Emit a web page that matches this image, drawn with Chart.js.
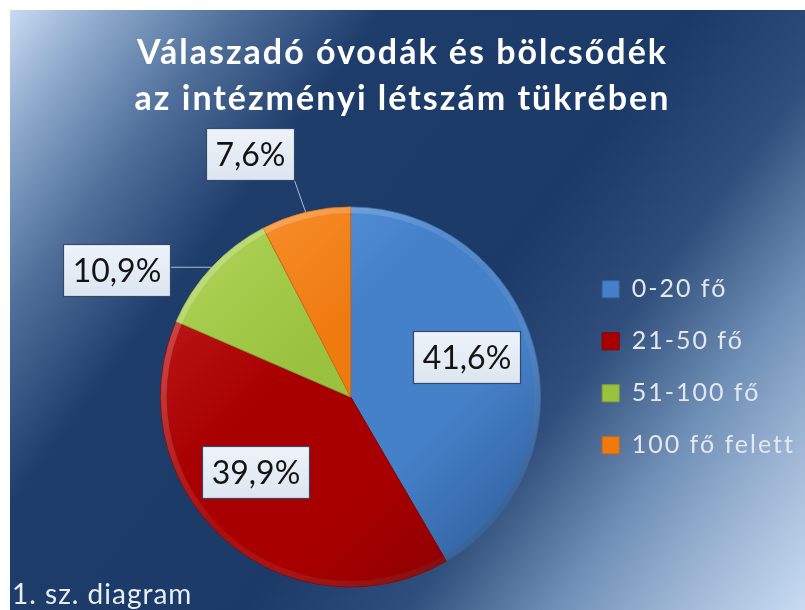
<!DOCTYPE html>
<html>
<head>
<meta charset="utf-8">
<script src="https://cdn.jsdelivr.net/npm/chart.js@4.4.0/dist/chart.umd.min.js"></script>
<style>
html,body{margin:0;padding:0;background:#ffffff;}
canvas{display:block;}
</style>
</head>
<body>
<canvas id="chart" width="805" height="610"></canvas>
<script>
// ---- data ----
const categories = ['0-20 fő', '21-50 fő', '51-100 fő', '100 fő felett'];
const shares = [41.6, 39.9, 10.9, 7.6];
const titleLines = ['Válaszadó óvodák és bölcsődék', 'az intézményi létszám tükrében'];
const footnote = '1. sz. diagram';

// ---- styles ----
const palette = [
  { base: '#4581c9', light: '#5c97dc', dark: '#3465a5' },
  { base: '#a80000', light: '#bd1717', dark: '#8e0000' },
  { base: '#9ac23e', light: '#abd054', dark: '#82a631' },
  { base: '#ef7a10', light: '#f78e2c', dark: '#d66908' }
];
// label placement relative to the arc (inside: fraction of radius; outside: offset from rim point)
const placement = [
  { inside: true, r: 0.63, dx: 0, dy: -9 },
  { inside: true, r: 0.63, dx: -16, dy: -14 },
  { inside: false, dx: -95, dy: 3 },
  { inside: false, dx: -56, dy: -58 }
];
const FONT = 'Lato, "Open Sans", sans-serif';

function sliceFill(c) {
  const chart = c.chart;
  const a = chart.chartArea;
  const p = palette[c.dataIndex % palette.length];
  if (!a) return p.base;
  const cx = (a.left + a.right) / 2, cy = (a.top + a.bottom) / 2, R = 190;
  const g = chart.ctx.createLinearGradient(cx - R * 0.75, cy - R * 0.75, cx + R * 0.75, cy + R * 0.75);
  g.addColorStop(0, p.light);
  g.addColorStop(0.35, p.base);
  g.addColorStop(0.7, p.base);
  g.addColorStop(1, p.dark);
  return g;
}

const backgroundPlugin = {
  id: 'panelBackground',
  beforeLayout(chart) { chart.ctx.letterSpacing = '2px'; },
  afterLayout(chart) { chart.ctx.letterSpacing = '0px'; },
  beforeDraw(chart) {
    const ctx = chart.ctx;
    const W = chart.width, H = chart.height;
    ctx.save();
    ctx.fillStyle = '#ffffff';
    ctx.fillRect(0, 0, W, H);
    const g = ctx.createLinearGradient(10, 10, W, H);
    g.addColorStop(0.00, '#c8dbf2');
    g.addColorStop(0.08, '#8ba7ca');
    g.addColorStop(0.18, '#50709b');
    g.addColorStop(0.30, '#1f3d6b');
    g.addColorStop(0.55, '#1c3a68');
    g.addColorStop(0.68, '#2f4e7b');
    g.addColorStop(0.80, '#7090b7');
    g.addColorStop(0.90, '#a0b8d6');
    g.addColorStop(1.00, '#c8dbf2');
    ctx.fillStyle = g;
    ctx.fillRect(10, 10, W - 10, H - 10);
    ctx.restore();
    ctx.letterSpacing = '2px';
  },
  beforeDatasetsDraw(chart) { chart.ctx.letterSpacing = '0px'; },
  afterDraw(chart) {
    const ctx = chart.ctx;
    ctx.save();
    ctx.letterSpacing = '1px';
    ctx.font = '28px ' + FONT;
    ctx.fillStyle = '#e8eef5';
    ctx.textBaseline = 'alphabetic';
    ctx.textAlign = 'left';
    ctx.fillText(footnote, 12, 604);
    ctx.restore();
  }
};

const labelPlugin = {
  id: 'boxLabels',
  afterDatasetsDraw(chart) {
    const ctx = chart.ctx;
    const meta = chart.getDatasetMeta(0);
    ctx.save();
    ctx.letterSpacing = '0px';
    // bevel rim
    const a0 = meta.data[0].getProps(['x', 'y', 'outerRadius'], true);
    const rg = ctx.createLinearGradient(a0.x - a0.outerRadius, a0.y - a0.outerRadius, a0.x + a0.outerRadius, a0.y + a0.outerRadius);
    rg.addColorStop(0, 'rgba(255,255,255,0.30)');
    rg.addColorStop(0.5, 'rgba(255,255,255,0.05)');
    rg.addColorStop(1, 'rgba(0,0,0,0.25)');
    ctx.beginPath();
    ctx.arc(a0.x, a0.y, a0.outerRadius - 3, 0, Math.PI * 2);
    ctx.lineWidth = 6;
    ctx.strokeStyle = rg;
    ctx.stroke();

    ctx.font = '32px ' + FONT;
    ctx.textAlign = 'center';
    ctx.textBaseline = 'middle';
    meta.data.forEach((arc, i) => {
      const { x, y, startAngle, endAngle, outerRadius } = arc.getProps(['x', 'y', 'startAngle', 'endAngle', 'outerRadius'], true);
      const mid = (startAngle + endAngle) / 2;
      const p = placement[i];
      const text = shares[i].toFixed(1).replace('.', ',') + '%';
      const tw = ctx.measureText(text).width;
      const w = Math.round(tw + 18), h = 52;
      let cx, cy, ex, ey;
      if (p.inside) {
        cx = x + Math.cos(mid) * outerRadius * p.r + p.dx;
        cy = y + Math.sin(mid) * outerRadius * p.r + p.dy;
      } else {
        ex = x + Math.cos(mid) * outerRadius;
        ey = y + Math.sin(mid) * outerRadius;
        cx = ex + p.dx;
        cy = ey + p.dy;
      }
      const bx = Math.round(cx - w / 2) + 0.5, by = Math.round(cy - h / 2) + 0.5;
      if (!p.inside) {
        const lx = Math.min(Math.max(ex, bx), bx + w);
        const ly = Math.min(Math.max(ey, by), by + h);
        ctx.beginPath();
        ctx.moveTo(ex, ey);
        ctx.lineTo(lx, ly);
        ctx.lineWidth = 1;
        ctx.strokeStyle = '#a9bbd2';
        ctx.stroke();
      }
      const fg = ctx.createLinearGradient(0, by, 0, by + h);
      fg.addColorStop(0, '#eef3f9');
      fg.addColorStop(1, '#dce5f0');
      ctx.fillStyle = fg;
      ctx.fillRect(bx, by, w, h);
      ctx.lineWidth = 1.2;
      ctx.strokeStyle = '#34496a';
      ctx.strokeRect(bx, by, w, h);
      ctx.fillStyle = '#141414';
      ctx.fillText(text, bx + w / 2, by + h / 2 + 1);
    });
    ctx.restore();
  }
};

new Chart(document.getElementById('chart'), {
  type: 'pie',
  data: {
    labels: categories,
    datasets: [{
      data: shares,
      backgroundColor: sliceFill,
      borderColor: palette.map(p => p.dark),
      borderWidth: 1,
      hoverOffset: 0
    }]
  },
  options: {
    responsive: false,
    devicePixelRatio: 1,
    animation: false,
    radius: 190,
    layout: { padding: { top: 0, left: 0, right: 0, bottom: 23 } },
    plugins: {
      tooltip: { enabled: false },
      title: {
        display: true,
        text: titleLines,
        color: '#ffffff',
        font: { family: FONT, size: 34, weight: 'bold', lineHeight: 1.35 },
        padding: { top: 30, bottom: 85 }
      },
      subtitle: {
        display: true,
        position: 'left',
        text: ' ',
        color: 'rgba(0,0,0,0)',
        font: { size: 10, lineHeight: 1 },
        padding: { top: 0, bottom: 116 }
      },
      legend: {
        position: 'right',
        align: 'start',
        fullSize: false,
        maxWidth: 231,
        title: {
          display: true,
          text: ' ',
          color: 'rgba(0,0,0,0)',
          font: { size: 20, lineHeight: 1.2 },
          padding: { top: 10, bottom: 9 }
        },
        labels: {
          boxWidth: 17,
          boxHeight: 17,
          padding: 27,
          color: '#e3e8ef',
          font: { family: FONT, size: 25 },
          generateLabels() {
            return categories.map((c, i) => ({
              text: c,
              fillStyle: palette[i].base,
              strokeStyle: palette[i].dark,
              fontColor: '#e3e8ef',
              lineWidth: 1,
              hidden: false,
              index: i,
              datasetIndex: 0
            }));
          }
        }
      }
    }
  },
  plugins: [backgroundPlugin, labelPlugin]
});
</script>
</body>
</html>
